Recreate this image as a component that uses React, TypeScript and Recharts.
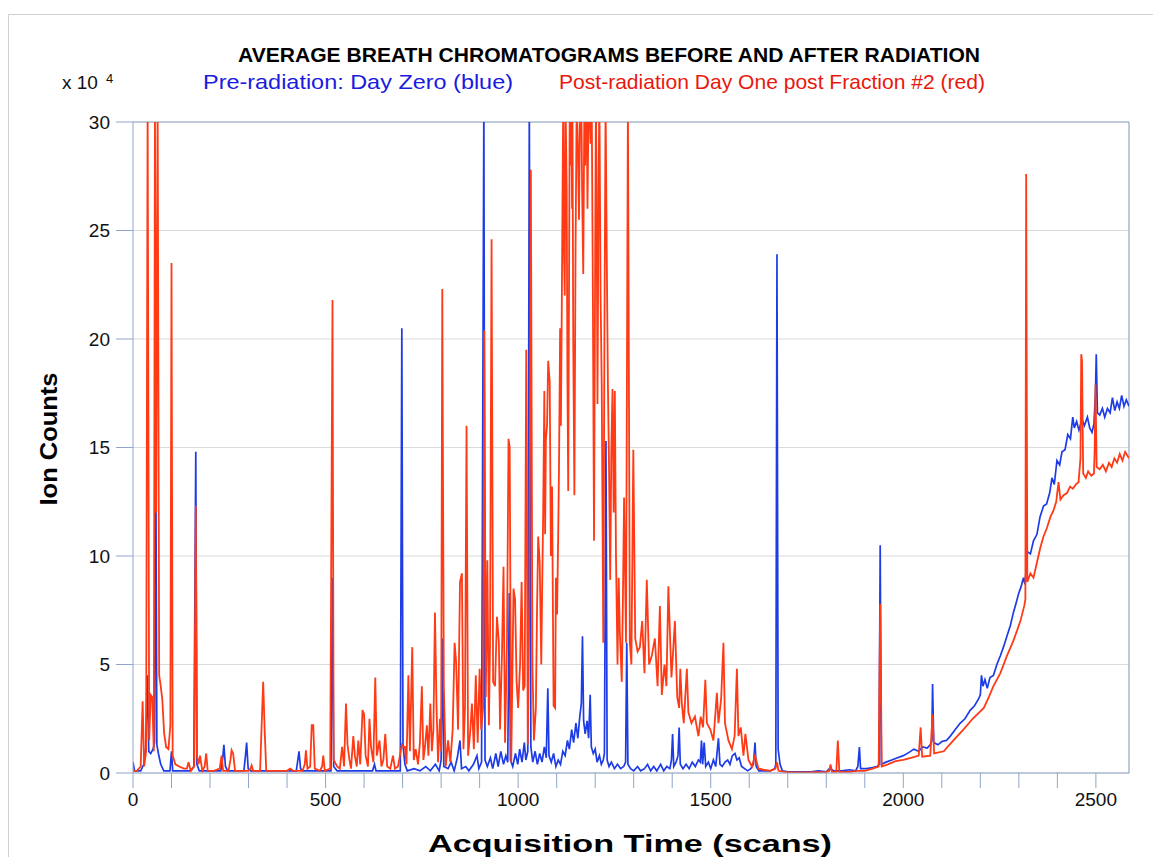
import React from 'react';
import { LineChart, Line, XAxis, YAxis, CartesianGrid, ReferenceLine } from 'recharts';

const BLUE = '#1d3ce6';
const RED = '#ff3a14';
const FRAME = '#8fa5c8';
const FONT = '"Liberation Sans Narrow", "Liberation Sans", Arial, Helvetica, sans-serif';

// ion counts in units of 10^4, values above 30 are off scale
const PRE_RADIATION: [number, number][] = [
  [0, 0.5], [4, 0.1], [20, 0.1], [28, 0.4], [33, 1.2], [37, 4.5], [41, 1.0], [46, 0.9], [52, 1.1], [56, 1.4],
  [59, 15.5], [62, 1.3], [66, 0.9], [72, 0.4], [80, 0.1], [96, 0.1], [100, 1.0], [103, 0.1], [150, 0.1], [158, 0.3],
  [163, 14.8], [166, 0.4], [172, 0.1], [228, 0.1], [233, 0.7], [236, 1.3], [240, 0.3], [246, 0.1], [288, 0.1], [292, 0.8],
  [295, 1.4], [299, 0.2], [305, 0.1], [424, 0.1], [428, 0.6], [431, 1.0], [435, 0.2], [440, 0.1], [514, 0.1], [518, 9.0],
  [521, 0.3], [530, 0.1], [622, 0.1], [627, 0.4], [631, 0.1], [694, 0.1], [698, 20.5], [701, 1.3], [706, 0.4], [712, 0.1],
  [730, 0.2], [745, 0.1], [760, 0.3], [772, 0.1], [785, 0.4], [795, 0.1], [800, 0.6], [804, 6.2], [807, 0.3], [818, 0.2],
  [826, 0.5], [834, 0.1], [842, 0.7], [849, 1.5], [853, 0.2], [864, 0.3], [872, 0.1], [884, 0.4], [893, 0.8], [898, 0.2],
  [905, 0.5], [911, 31], [914, 0.6], [920, 0.3], [928, 0.7], [934, 0.2], [942, 0.9], [948, 0.3], [955, 1.0], [962, 0.4],
  [968, 0.8], [973, 0.5], [977, 8.3], [980, 0.6], [986, 0.3], [993, 0.9], [999, 0.4], [1004, 1.1], [1010, 0.5], [1016, 1.4],
  [1020, 0.6], [1025, 1.0], [1029, 31], [1033, 1.2], [1038, 0.5], [1044, 1.0], [1050, 0.4], [1056, 0.9], [1062, 0.5], [1068, 1.2],
  [1073, 0.7], [1077, 3.9], [1080, 0.8], [1086, 0.5], [1092, 0.9], [1098, 0.3], [1104, 0.6], [1110, 0.4], [1116, 1.0], [1122, 0.8],
  [1128, 1.5], [1133, 1.1], [1139, 2.0], [1144, 1.4], [1150, 2.3], [1155, 1.6], [1160, 2.6], [1164, 3.2], [1167, 6.3], [1170, 2.4],
  [1174, 1.8], [1179, 2.4], [1183, 1.6], [1187, 3.6], [1190, 1.2], [1195, 0.9], [1200, 1.1], [1205, 0.5], [1211, 0.8], [1216, 0.4],
  [1221, 0.6], [1224, 0.9], [1228, 15.3], [1231, 0.6], [1236, 0.3], [1242, 0.5], [1250, 0.2], [1258, 0.4], [1266, 0.2], [1274, 0.3],
  [1279, 0.5], [1282, 6.0], [1285, 0.4], [1292, 0.2], [1300, 0.1], [1310, 0.3], [1318, 0.1], [1328, 0.2], [1336, 0.4], [1344, 0.1],
  [1352, 0.3], [1360, 0.1], [1370, 0.4], [1378, 0.1], [1386, 0.3], [1394, 0.2], [1398, 0.6], [1401, 1.8], [1404, 0.3], [1410, 0.5],
  [1415, 0.8], [1418, 2.1], [1421, 0.4], [1428, 0.2], [1436, 0.4], [1444, 0.2], [1452, 0.5], [1460, 0.3], [1468, 0.6], [1473, 0.5],
  [1476, 1.5], [1479, 0.4], [1483, 1.4], [1487, 0.3], [1494, 0.5], [1500, 0.2], [1507, 0.6], [1513, 0.3], [1520, 1.6], [1524, 0.4],
  [1530, 0.3], [1537, 0.5], [1544, 0.6], [1550, 0.4], [1556, 0.8], [1563, 0.9], [1568, 0.6], [1574, 0.7], [1580, 0.3], [1588, 0.2],
  [1596, 0.1], [1604, 0.2], [1611, 0.4], [1615, 1.4], [1618, 0.3], [1625, 0.1], [1640, 0.1], [1655, 0.1], [1666, 0.2], [1669, 0.4],
  [1672, 23.9], [1675, 1.1], [1680, 0.4], [1686, 0.1], [1700, 0.05], [1730, 0.05], [1760, 0.05], [1780, 0.1], [1800, 0.05], [1808, 0.2],
  [1820, 0.1], [1840, 0.1], [1860, 0.15], [1876, 0.1], [1882, 0.3], [1886, 1.2], [1889, 0.2], [1905, 0.2], [1920, 0.25], [1932, 0.3],
  [1937, 0.4], [1940, 10.5], [1943, 0.4], [1955, 0.5], [1970, 0.6], [1985, 0.7], [2000, 0.8], [2015, 0.95], [2027, 1.1], [2040, 1.0],
  [2050, 1.2], [2062, 1.15], [2070, 1.3], [2074, 1.5], [2076, 4.1], [2079, 1.4], [2090, 1.3], [2100, 1.45], [2112, 1.5], [2122, 1.7],
  [2135, 2.0], [2148, 2.3], [2160, 2.5], [2174, 2.9], [2185, 3.1], [2195, 3.4], [2200, 3.6], [2203, 4.5], [2207, 4.0], [2212, 4.3],
  [2218, 3.9], [2225, 4.4], [2234, 4.5], [2243, 5.0], [2252, 5.4], [2260, 5.8], [2269, 6.3], [2278, 6.8], [2286, 7.4], [2294, 7.9],
  [2300, 8.3], [2306, 8.6], [2312, 9.0], [2316, 8.7], [2319, 9.4], [2322, 10.2], [2330, 10.1], [2338, 10.7], [2347, 11.0], [2355, 11.8],
  [2364, 12.3], [2372, 12.4], [2380, 12.9], [2386, 13.6], [2392, 13.3], [2399, 14.4], [2406, 14.2], [2412, 14.8], [2420, 14.9], [2427, 15.6],
  [2434, 15.4], [2440, 16.4], [2444, 15.9], [2450, 16.2], [2456, 15.8], [2464, 16.3], [2470, 16.0], [2478, 16.4], [2484, 15.9], [2490, 15.7],
  [2495, 16.1], [2499, 17.5], [2501, 19.3], [2504, 16.6], [2510, 16.5], [2517, 16.8], [2523, 16.4], [2530, 16.8], [2537, 16.6], [2543, 17.3],
  [2549, 16.7], [2555, 17.1], [2561, 16.8], [2567, 17.4], [2573, 16.9], [2579, 17.2], [2586, 16.9],
];

const POST_RADIATION: [number, number][] = [
  [0, 0.1], [10, 0.1], [20, 0.3], [25, 3.3], [29, 0.3], [34, 1.0], [38, 31], [42, 1.5], [46, 3.6], [50, 3.5],
  [54, 1.0], [57, 31], [60, 12], [64, 31], [68, 4.5], [72, 4.0], [76, 3.4], [81, 1.8], [86, 1.2], [92, 1.1],
  [97, 2.2], [100, 23.5], [103, 0.8], [110, 0.4], [120, 0.3], [132, 0.2], [140, 0.2], [144, 0.5], [150, 0.1], [159, 0.3],
  [163, 12.3], [166, 0.8], [170, 0.4], [174, 0.8], [180, 0.1], [186, 0.3], [190, 0.9], [194, 0.1], [210, 0.1], [225, 0.2],
  [230, 0.8], [234, 0.1], [248, 0.1], [253, 0.6], [256, 1.05], [260, 0.9], [265, 0.1], [300, 0.1], [305, 0.2], [308, 0.35],
  [312, 0.1], [330, 0.1], [334, 2.2], [338, 4.2], [342, 1.9], [346, 0.1], [380, 0.1], [400, 0.1], [408, 0.2], [416, 0.1],
  [440, 0.1], [446, 0.4], [449, 1.05], [453, 0.2], [460, 0.3], [464, 2.2], [468, 2.2], [472, 0.2], [485, 0.1], [491, 0.3],
  [494, 0.8], [498, 0.1], [512, 0.2], [518, 21.8], [521, 0.6], [530, 0.3], [537, 0.2], [543, 1.2], [548, 0.3], [553, 3.2],
  [557, 1.3], [562, 0.6], [566, 0.2], [572, 1.7], [576, 0.8], [581, 0.3], [585, 1.5], [590, 0.4], [596, 2.9], [600, 2.7],
  [604, 0.8], [610, 0.3], [614, 2.5], [618, 1.2], [624, 0.5], [629, 4.4], [633, 0.8], [640, 1.5], [645, 0.3], [650, 0.6],
  [655, 1.8], [660, 0.3], [668, 0.2], [675, 0.8], [680, 0.2], [688, 0.3], [695, 1.0], [698, 1.3], [702, 1.2], [706, 1.2],
  [710, 0.4], [715, 4.5], [719, 1.0], [725, 5.8], [729, 0.6], [734, 1.1], [740, 0.4], [745, 1.4], [750, 4.0], [754, 0.6],
  [758, 1.2], [763, 2.2], [767, 0.8], [772, 3.2], [776, 1.0], [780, 2.0], [784, 7.4], [788, 3.1], [792, 0.5], [797, 2.5],
  [800, 1.0], [803, 22.3], [807, 4.0], [812, 0.3], [818, 1.5], [824, 0.5], [830, 2.0], [835, 6.0], [839, 5.1], [844, 2.0],
  [849, 8.8], [854, 9.2], [858, 1.1], [862, 3.0], [866, 16.0], [870, 0.8], [876, 2.0], [880, 3.2], [885, 1.1], [890, 4.5],
  [895, 1.4], [900, 4.8], [904, 2.0], [909, 3.0], [912, 20.4], [916, 3.5], [920, 9.8], [924, 2.2], [927, 6.0], [931, 24.6],
  [935, 4.2], [940, 4.0], [945, 7.2], [950, 6.0], [953, 2.0], [958, 5.5], [962, 9.5], [966, 1.4], [971, 6.0], [975, 15.4],
  [978, 15.0], [982, 0.5], [988, 8.5], [992, 8.0], [996, 4.2], [1000, 3.0], [1005, 5.0], [1009, 8.8], [1013, 3.8], [1017, 4.0],
  [1021, 19.5], [1025, 1.3], [1029, 8.0], [1033, 27.8], [1037, 5.0], [1041, 1.5], [1046, 3.0], [1049, 7.5], [1052, 10.9], [1056, 9.7],
  [1060, 5.0], [1062, 8.0], [1065, 12.0], [1068, 17.6], [1070, 11.0], [1072, 15.4], [1075, 16.0], [1078, 19.0], [1082, 18.0], [1085, 10.0],
  [1088, 13.2], [1092, 3.1], [1096, 3.0], [1098, 9.0], [1101, 7.3], [1104, 11.0], [1106, 14.0], [1109, 20.5], [1111, 16.0], [1113, 20.7],
  [1115, 26], [1117, 31], [1119, 24], [1121, 22], [1123, 31], [1126, 27], [1128, 18], [1130, 13.0], [1132, 22], [1134, 31],
  [1136, 28], [1138, 31], [1140, 26], [1141, 31], [1143, 20], [1146, 12.8], [1149, 24], [1152, 31], [1155, 29], [1158, 25.5],
  [1161, 31], [1164, 31], [1166, 27], [1169, 23], [1172, 31], [1174, 28], [1176, 31], [1178, 31], [1180, 26], [1183, 31],
  [1185, 31], [1188, 29], [1191, 31], [1194, 22], [1197, 10.7], [1200, 24], [1202, 31], [1204, 25], [1206, 17], [1209, 28],
  [1211, 31], [1214, 22], [1217, 17.8], [1219, 12], [1221, 6.0], [1224, 20], [1227, 31], [1230, 24], [1233, 18], [1236, 14],
  [1239, 8.9], [1242, 15], [1245, 17.7], [1248, 12], [1251, 17.6], [1254, 10], [1258, 5.0], [1261, 9.0], [1264, 6.5], [1269, 4.2],
  [1272, 8.0], [1275, 12.7], [1280, 6.0], [1285, 31], [1290, 6.0], [1294, 5.0], [1299, 14.9], [1304, 6.2], [1310, 5.6], [1316, 5.8],
  [1322, 7.0], [1328, 4.6], [1334, 8.9], [1340, 5.0], [1347, 5.4], [1355, 6.2], [1362, 4.0], [1368, 7.7], [1373, 3.6], [1380, 5.0],
  [1385, 4.0], [1390, 8.6], [1398, 4.4], [1402, 5.5], [1407, 7.0], [1413, 3.5], [1418, 3.0], [1421, 4.8], [1425, 3.2], [1430, 2.3],
  [1438, 4.8], [1442, 2.8], [1450, 2.3], [1459, 2.6], [1468, 1.7], [1474, 2.6], [1480, 2.1], [1486, 4.3], [1490, 2.3], [1499, 2.0],
  [1507, 1.5], [1516, 3.7], [1520, 2.3], [1527, 3.4], [1533, 6.0], [1537, 2.3], [1546, 1.5], [1555, 1.1], [1562, 1.7], [1568, 4.8],
  [1572, 1.7], [1578, 2.1], [1585, 0.8], [1590, 1.8], [1598, 0.6], [1607, 0.3], [1615, 0.8], [1624, 0.2], [1637, 0.15], [1655, 0.1],
  [1668, 0.2], [1672, 0.5], [1676, 0.1], [1700, 0.03], [1750, 0.03], [1800, 0.05], [1808, 0.1], [1811, 0.4], [1815, 0.05], [1826, 0.05],
  [1830, 1.5], [1834, 0.05], [1860, 0.05], [1880, 0.1], [1900, 0.1], [1920, 0.2], [1936, 0.3], [1940, 7.8], [1944, 0.3], [1960, 0.4],
  [1980, 0.55], [2000, 0.6], [2020, 0.7], [2040, 0.8], [2045, 2.1], [2049, 0.75], [2070, 0.8], [2076, 2.7], [2080, 0.9], [2105, 1.0],
  [2130, 1.5], [2156, 2.0], [2180, 2.5], [2209, 3.0], [2222, 3.5], [2234, 4.0], [2252, 4.6], [2269, 5.4], [2286, 6.1], [2304, 7.0],
  [2314, 7.7], [2317, 8.0], [2319, 27.6], [2322, 8.8], [2330, 9.2], [2338, 9.0], [2347, 9.7], [2356, 10.4], [2364, 10.9], [2373, 11.3],
  [2382, 11.8], [2390, 12.1], [2397, 12.5], [2403, 13.4], [2408, 12.6], [2416, 12.8], [2425, 12.9], [2433, 13.2], [2440, 13.1], [2448, 13.3],
  [2455, 13.4], [2460, 14.5], [2462, 19.3], [2464, 19.0], [2467, 13.8], [2474, 13.6], [2480, 13.9], [2488, 13.7], [2495, 13.8], [2497, 15.0],
  [2499, 17.9], [2502, 14.1], [2510, 14.0], [2518, 14.2], [2526, 13.9], [2534, 14.3], [2541, 14.1], [2548, 14.5], [2555, 14.3], [2562, 14.7],
  [2569, 14.4], [2576, 14.8], [2586, 14.5],
];

const X_TICKS = [0, 100, 200, 300, 400, 500, 600, 700, 800, 900, 1000, 1100, 1200, 1300,
  1400, 1500, 1600, 1700, 1800, 1900, 2000, 2100, 2200, 2300, 2400, 2500];
const Y_TICKS = [0, 5, 10, 15, 20, 25, 30];

const toRows = (pairs: [number, number][]) => pairs.map(([scan, ion]) => ({ scan, ion }));

export default function App() {
  const pre = toRows(PRE_RADIATION);
  const post = toRows(POST_RADIATION);

  return (
    <div style={{ position: 'absolute', left: 0, top: 0, width: 1153, height: 857, background: '#fff', fontFamily: FONT }}>
      <LineChart width={1153} height={857} margin={{ top: 122, right: 24, bottom: 24, left: 53 }}>
        <CartesianGrid vertical={false} stroke="#dadada" strokeWidth={1.2} />
        <XAxis
          type="number" dataKey="scan" domain={[0, 2586]} ticks={X_TICKS} allowDataOverflow height={60}
          tickSize={15} tickMargin={5} stroke={FRAME}
          tick={{ fontSize: 19, fill: '#111', fontFamily: FONT }}
          tickFormatter={(v: number) => (v % 500 === 0 ? String(v) : '')}
        />
        <YAxis
          type="number" domain={[0, 30]} ticks={Y_TICKS} allowDataOverflow width={80}
          tickSize={17} tickMargin={6} stroke={FRAME}
          tick={{ fontSize: 19, fill: '#111', fontFamily: FONT }}
        />
        <ReferenceLine y={30} stroke={FRAME} strokeWidth={1.2} />
        <ReferenceLine x={2586} stroke={FRAME} strokeWidth={1.2} />
        <Line data={pre} dataKey="ion" type="linear" stroke={BLUE} strokeWidth={1.7} dot={false} isAnimationActive={false} name="Pre-radiation" />
        <Line data={post} dataKey="ion" type="linear" stroke={RED} strokeWidth={1.8} dot={false} isAnimationActive={false} name="Post-radiation" />
      </LineChart>

      <svg width={1153} height={857} style={{ position: 'absolute', left: 0, top: 0, pointerEvents: 'none' }}>
        <line x1={8.5} y1={14.5} x2={8.5} y2={857} stroke="#cfcfcf" />
        <line x1={8.5} y1={14.5} x2={1153} y2={14.5} stroke="#cfcfcf" />
        <text x={609} y={62} textAnchor="middle" fontSize={21} fontWeight="bold" fill="#000" fontFamily={FONT}
          textLength={742} lengthAdjust="spacingAndGlyphs">
          AVERAGE BREATH CHROMATOGRAMS BEFORE AND AFTER RADIATION
        </text>
        <text x={358} y={89} textAnchor="middle" fontSize={21} fill="#1a1ae0" fontFamily={FONT}
          textLength={310} lengthAdjust="spacingAndGlyphs">
          Pre-radiation: Day Zero (blue)
        </text>
        <text x={772} y={89} textAnchor="middle" fontSize={21} fill="#e8180c" fontFamily={FONT}
          textLength={426} lengthAdjust="spacingAndGlyphs">
          Post-radiation Day One post Fraction #2 (red)
        </text>
        <text x={62} y={89} fontSize={19} fill="#111" fontFamily={FONT}>x 10</text>
        <text x={106} y={83} fontSize={13} fill="#111" fontFamily={FONT}>4</text>
        <text x={630} y={852} textAnchor="middle" fontSize={23} fontWeight="bold" fill="#000" fontFamily={FONT}
          textLength={404} lengthAdjust="spacingAndGlyphs">
          Acquisition Time (scans)
        </text>
        <text x={0} y={0} transform="translate(57 439) rotate(-90)" textAnchor="middle" fontSize={23} fontWeight="bold"
          fill="#000" fontFamily={FONT} textLength={133} lengthAdjust="spacingAndGlyphs">
          Ion Counts
        </text>
      </svg>
    </div>
  );
}
